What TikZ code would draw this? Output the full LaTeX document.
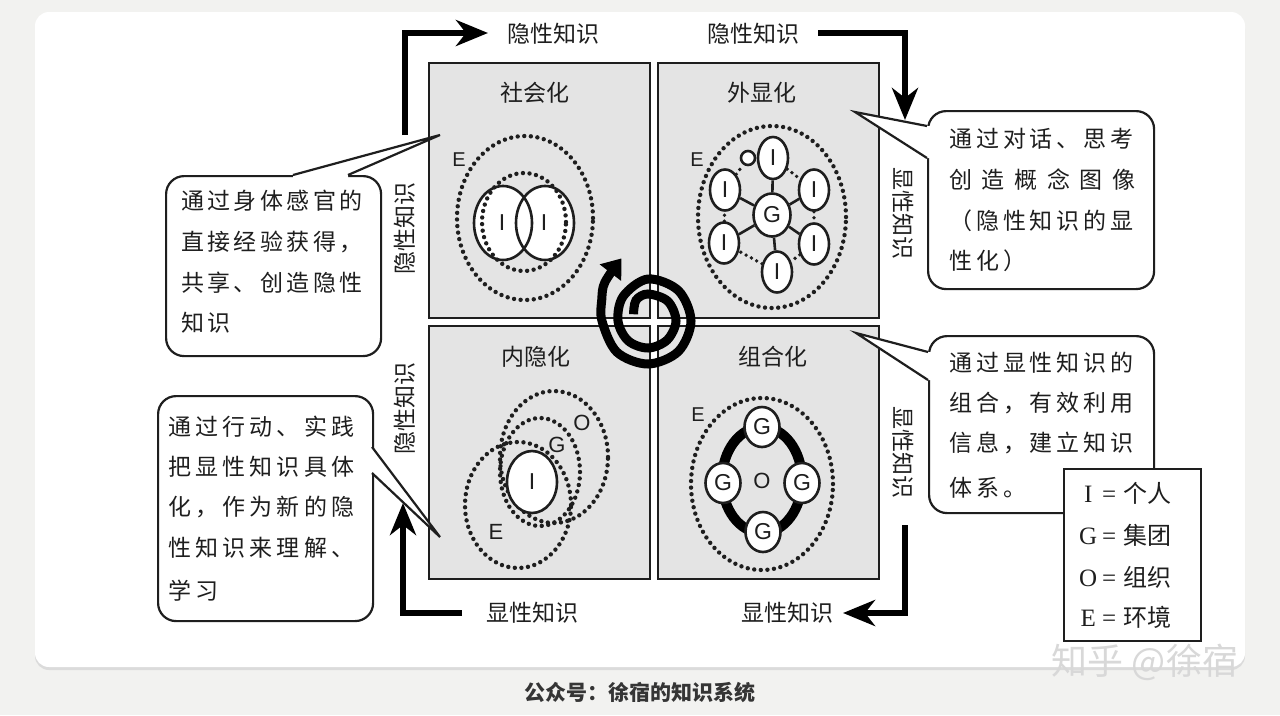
\documentclass[tikz,border=0pt]{standalone}
\usepackage{fontspec}
\newfontfamily\cjk{Noto Sans CJK SC}
\newfontfamily\lsans{Liberation Sans}
\newfontfamily\lserif{Liberation Serif}
\usetikzlibrary{shapes.geometric,arrows.meta}
\definecolor{bgc}{HTML}{F2F2F0}
\definecolor{qfill}{HTML}{E4E4E4}
\definecolor{ink}{HTML}{1E1E1E}
\definecolor{wm}{HTML}{D8D8D8}
\newcommand\CL[2]{\def\CLp{#1}\CLa#2\relax}
\def\CLa#1{\ifx#1\relax\else\hbox to \CLp{#1\hss}\expandafter\CLa\fi}
\begin{document}
\begin{tikzpicture}[x=1pt,y=-1pt,
 quad/.style={draw=ink,line width=2.4pt,fill=qfill,inner sep=0pt,anchor=north west},
 ttl/.style={font=\cjk\fontsize{23}{23}\selectfont,text=ink,inner sep=0pt},
 txt/.style={font=\cjk\fontsize{23}{23}\selectfont,text=ink,inner sep=0pt,anchor=west},
 box/.style={draw=ink,line width=2.2pt,fill=white,rounded corners=18pt,inner sep=0pt,anchor=north west},
 ptr/.style={draw=ink,line width=2.2pt,line join=miter},
 flow/.style={line width=6.5pt,draw=black,-{Stealth[length=32pt,width=26pt,inset=10pt]}},
 bigdots/.style={draw=ink,line width=4.4pt,dash pattern=on 0pt off 6.6pt,line cap=round},
 smdots/.style={draw=ink,line width=3.8pt,dash pattern=on 0pt off 6pt,line cap=round},
 solid1/.style={draw=ink,line width=2.6pt},
 ltr/.style={font=\lsans\fontsize{20}{20}\selectfont,text=ink,inner sep=0pt},
 ell/.style={ellipse,draw=ink,line width=2.6pt,fill=white,inner sep=0pt,font=\lsans\fontsize{23}{23}\selectfont,text=ink},
 legtxt/.style={anchor=west,inner sep=0pt,text=ink,font=\lserif\fontsize{25}{25}\selectfont}
]
\useasboundingbox (0,0) rectangle (1280,715);
% background and card
\fill[bgc] (0,0) rectangle (1280,715);
\fill[black!14,rounded corners=14pt] (35,15) rectangle (1245,670);
\fill[white,rounded corners=14pt] (35,12) rectangle (1245,667);

% quadrants
\node[quad,minimum width=221pt,minimum height=255pt] (q1) at (428,62) {};
\node[quad,minimum width=221pt,minimum height=255pt] (q2) at (657,62) {};
\node[quad,minimum width=221pt,minimum height=253pt] (q3) at (428,325) {};
\node[quad,minimum width=221pt,minimum height=253pt] (q4) at (657,325) {};
\node[ttl] (t1) at (535,93) {社会化};
\node[ttl] (t2) at (762,93) {外显化};
\node[ttl] (t3) at (536,357) {内隐化};
\node[ttl] (t4) at (773,357) {组合化};

% socialization
\fill[white] (503,223) ellipse (29pt and 37pt);
\fill[white] (545,223) ellipse (29pt and 37pt);
\draw[bigdots] (525,218) ellipse (68pt and 82pt);
\draw[bigdots] (524,222) ellipse (42pt and 49pt);
\draw[solid1] (503,223) ellipse (29pt and 37pt);
\draw[solid1] (545,223) ellipse (29pt and 37pt);
\node[ltr,font=\lsans\fontsize{23}{23}\selectfont] (s1i) at (502,223) {I};
\node[ltr,font=\lsans\fontsize{23}{23}\selectfont] (s2i) at (544,223) {I};
\node[ltr] (s1e) at (459,160) {E};

% externalization
\draw[bigdots] (772,217) ellipse (74pt and 91pt);
\node[ell,minimum width=37pt,minimum height=43pt] (eg) at (772,215) {G};
\node[ell,minimum width=30pt,minimum height=42pt] (et) at (773,158) {I};
\node[ell,minimum width=30pt,minimum height=41pt] (eul) at (725,190) {I};
\node[ell,minimum width=30pt,minimum height=41pt] (eur) at (814,190) {I};
\node[ell,minimum width=30pt,minimum height=41pt] (ell) at (724,243) {I};
\node[ell,minimum width=30pt,minimum height=41pt] (elr) at (814,244) {I};
\node[ell,minimum width=30pt,minimum height=41pt] (eb) at (777,272) {I};
\node[circle,draw=ink,line width=2.6pt,fill=white,minimum size=14pt,inner sep=0pt] (eo) at (748,158) {};
\foreach \n in {et,eul,eur,ell,elr,eb} {\draw[solid1] (eg) -- (\n);}
\draw[smdots] (et) -- (eur);
\draw[smdots] (eur) -- (elr);
\draw[smdots] (elr) -- (eb);
\draw[smdots] (eb) -- (ell);
\draw[smdots] (ell) -- (eul);
\draw[smdots] (eul) -- (eo);
\node[ltr] (ee) at (697,160) {E};

% internalization
\fill[white] (532,482) ellipse (25pt and 31pt);
\draw[bigdots] (554,457) ellipse (54pt and 66pt);
\draw[bigdots] (540,472) ellipse (40pt and 54pt);
\draw[bigdots] (518,505) ellipse (53pt and 63pt);
\node[ell,minimum width=50pt,minimum height=62pt] (ii) at (532,482) {I};
\node[ltr,font=\lsans\fontsize{22}{22}\selectfont] (ig) at (557,445) {G};
\node[ltr,font=\lsans\fontsize{22}{22}\selectfont] (io) at (582,423) {O};
\node[ltr,font=\lsans\fontsize{22}{22}\selectfont] (ie) at (496,532) {E};

% combination
\draw[bigdots] (762,484) ellipse (71pt and 86pt);
\draw[line width=10pt,black] (762,480) ellipse (40pt and 53pt);
\node[ell,minimum width=35pt,minimum height=40pt] (cgt) at (762,427) {G};
\node[ell,minimum width=35pt,minimum height=40pt] (cgl) at (723,483) {G};
\node[ell,minimum width=35pt,minimum height=40pt] (cgr) at (802,483) {G};
\node[ell,minimum width=35pt,minimum height=40pt] (cgb) at (763,532) {G};
\node[ltr,font=\lsans\fontsize{22}{22}\selectfont] (co) at (762,481) {O};
\node[ltr] (ce) at (698,415) {E};

% spiral
\begin{scope}[shift={(648,321)}]
\draw[line width=9pt,black,-{Triangle[length=18pt,width=26pt]}] plot[smooth,tension=0.55] coordinates {(155:16pt) (120:24pt) (90:27pt) (45:28pt) (0:28pt) (-45:27pt) (-90:27pt) (-135:28pt) (-180:30pt) (-225:35pt) (-270:42pt) (-315:43pt) (-360:43pt) (-405:43pt) (-450:43pt) (-495:44pt) (-540:46pt) (-565:51pt) (-582:58pt) (-607:68pt)};
\end{scope}

% flow arrows
\coordinate (a1s) at (405,135); \coordinate (a1c) at (405,33); \coordinate (a1e) at (488,33);
\draw[flow] (a1s) -- (a1c) -- (a1e);
\coordinate (a2s) at (818,33); \coordinate (a2c) at (905,33); \coordinate (a2e) at (905,120);
\draw[flow] (a2s) -- (a2c) -- (a2e);
\coordinate (a3s) at (905,525); \coordinate (a3c) at (905,613); \coordinate (a3e) at (843,613);
\draw[flow] (a3s) -- (a3c) -- (a3e);
\coordinate (a4s) at (462,613); \coordinate (a4c) at (403,613); \coordinate (a4e) at (403,503);
\draw[flow] (a4s) -- (a4c) -- (a4e);

\node[ttl] (k1) at (553,34) {隐性知识};
\node[ttl] (k2) at (753,34) {隐性知识};
\node[ttl] (k3) at (532,613) {显性知识};
\node[ttl] (k4) at (787,613) {显性知识};
\node[ttl,rotate=90] (k5) at (405,228) {隐性知识};
\node[ttl,rotate=90] (k6) at (405,408) {隐性知识};
\node[ttl,rotate=-90] (k7) at (903,213) {显性知识};
\node[ttl,rotate=-90] (k8) at (903,452) {显性知识};

% callout 1
\node[box,minimum width=215pt,minimum height=180pt] (b1) at (165,175) {};
\coordinate (p1a) at (293,175); \coordinate (p1t) at (440,135); \coordinate (p1b) at (348,175);
\fill[white] (p1a) -- (p1t) -- (p1b) -- (348,178) -- (293,178) -- cycle;
\draw[ptr] (p1a) -- (p1t) -- (p1b);
\node[txt] (c1a) at (181,201) {\CL{26.4pt}{通过身体感官的}};
\node[txt] (c1b) at (181,242) {\CL{26.4pt}{直接经验获得，}};
\node[txt] (c1c) at (181,283) {\CL{26.4pt}{共享、创造隐性}};
\node[txt] (c1d) at (181,323) {\CL{26.4pt}{知识}};

% callout 2
\node[box,minimum width=226pt,minimum height=178pt] (b2) at (927,110) {};
\coordinate (p2a) at (927,126); \coordinate (p2t) at (855,112); \coordinate (p2b) at (927,158);
\fill[white] (p2a) -- (p2t) -- (p2b) -- (930,158) -- (930,126) -- cycle;
\draw[ptr] (p2a) -- (p2t) -- (p2b);
\node[txt] (c2a) at (949,139) {\CL{26.9pt}{通过对话、思考}};
\node[txt] (c2b) at (949,180) {\CL{32.7pt}{创造概念图像}};
\node[txt] (c2c) at (949,221) {\CL{26.9pt}{（隐性知识的显}};
\node[txt] (c2d) at (949,261) {\CL{26.9pt}{性化）}};

% callout 3
\node[box,minimum width=215pt,minimum height=225pt] (b3) at (157,395) {};
\coordinate (p3a) at (372,447); \coordinate (p3t) at (440,537); \coordinate (p3b) at (372,473);
\fill[white] (p3a) -- (p3t) -- (p3b) -- (369,473) -- (369,447) -- cycle;
\draw[ptr] (p3a) -- (p3t) -- (p3b);
\node[txt] (c3a) at (168,427) {\CL{27.2pt}{通过行动、实践}};
\node[txt] (c3b) at (168,467) {\CL{27.2pt}{把显性知识具体}};
\node[txt] (c3c) at (168,507) {\CL{27.2pt}{化，作为新的隐}};
\node[txt] (c3d) at (168,548) {\CL{27.2pt}{性知识来理解、}};
\node[txt] (c3e) at (168,591) {\CL{27.2pt}{学习}};

% callout 4
\node[box,minimum width=225pt,minimum height=177pt] (b4) at (928,335) {};
\coordinate (p4a) at (928,352); \coordinate (p4t) at (856,333); \coordinate (p4b) at (928,380);
\fill[white] (p4a) -- (p4t) -- (p4b) -- (931,380) -- (931,352) -- cycle;
\draw[ptr] (p4a) -- (p4t) -- (p4b);
\node[txt] (c4a) at (949,363) {\CL{26.9pt}{通过显性知识的}};
\node[txt] (c4b) at (949,403) {\CL{26.9pt}{组合，有效利用}};
\node[txt] (c4c) at (949,443) {\CL{26.9pt}{信息，建立知识}};
\node[txt] (c4d) at (949,488) {\CL{26.9pt}{体系。}};

% legend
\node[draw=ink,line width=2.2pt,fill=white,anchor=north west,minimum width=137pt,minimum height=172pt,inner sep=0pt] (leg) at (1063,468) {};
\node[legtxt] (l1) at (1078,493) {\makebox[20pt][c]{I}\hspace{4pt}=\hspace{7pt}{\cjk\fontsize{24}{24}\selectfont 个人}};
\node[legtxt] (l2) at (1078,535) {\makebox[20pt][c]{G}\hspace{4pt}=\hspace{7pt}{\cjk\fontsize{24}{24}\selectfont 集团}};
\node[legtxt] (l3) at (1078,577) {\makebox[20pt][c]{O}\hspace{4pt}=\hspace{7pt}{\cjk\fontsize{24}{24}\selectfont 组织}};
\node[legtxt] (l4) at (1078,617) {\makebox[20pt][c]{E}\hspace{4pt}=\hspace{7pt}{\cjk\fontsize{24}{24}\selectfont 环境}};

% watermark and caption
\node[inner sep=0pt,text=wm,font=\cjk\fontsize{36}{36}\selectfont] (wmk) at (1145,662) {知乎 @徐宿};
\node[inner sep=0pt,text=ink!90,font=\cjk\bfseries\fontsize{21}{21}\selectfont] (cap) at (640,692) {公众号：徐宿的知识系统};
\end{tikzpicture}
\end{document}
